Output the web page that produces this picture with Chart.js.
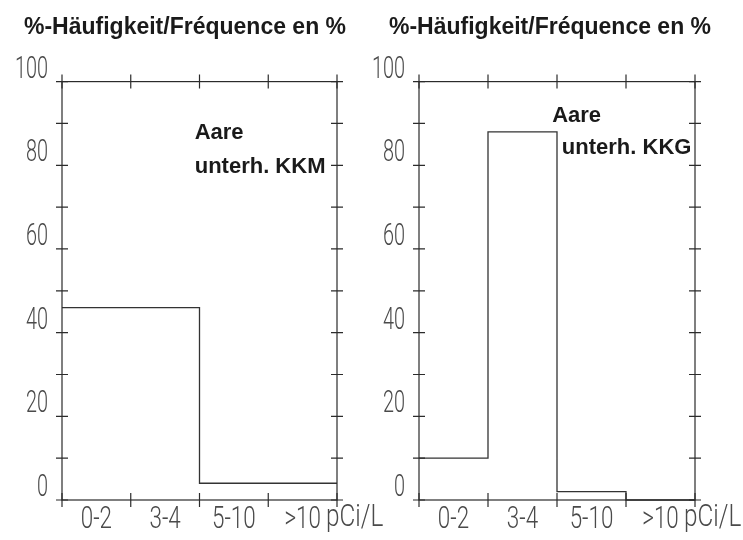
<!DOCTYPE html>
<html>
<head>
<meta charset="utf-8">
<script src="https://cdn.jsdelivr.net/npm/chart.js@4/dist/chart.umd.min.js"></script>
<style>
  html, body { margin: 0; padding: 0; background: #fff; }
  #wrap { position: relative; width: 743px; height: 540px; overflow: hidden; }
  .box { position: absolute; top: 0; height: 540px; }
  #boxLeft { left: 0; width: 400px; }
  #boxRight { left: 357px; width: 386px; }
</style>
</head>
<body>
<div id="wrap">
  <div class="box" id="boxLeft"><canvas id="chartLeft"></canvas></div>
  <div class="box" id="boxRight"><canvas id="chartRight"></canvas></div>
</div>
<script>
// categories (pCi/L classes) and share of samples in %
const categories = ['0-2', '3-4', '5-10', '>10'];
const kkmValues = [46, 46, 4, 4];
const kkgValues = [10, 88, 2, 0];
const titleText = '%-Häufigkeit/Fréquence en %';
const unitText = 'pCi/L';
const kkmNote = ['Aare', 'unterh. KKM'];
const kkgNote = ['Aare', 'unterh. KKG'];

const plotFont = { family: 'Roboto', size: 32, weight: 300 };
const boldFont = "'Liberation Sans', Arial, sans-serif";
const ink = '#2b2b2b';
const labelInk = '#4a4a4a';

// tick labels squeezed sideways through fillText's maxWidth (plotter lettering is tall and narrow)
const squeezeItems = (scale, items, factor) => {
    const ctx = scale.ctx;
    items.forEach(item => {
        if (item.options.maxWidth === undefined) {
            ctx.save();
            if (item.font) ctx.font = item.font.string;
            item.options.maxWidth = Math.max(1, ctx.measureText(String(item.label)).width * factor);
            ctx.restore();
        }
    });
    return items;
};

class NarrowLinearScale extends Chart.LinearScale {
    getLabelItems(chartArea) { return squeezeItems(this, super.getLabelItems(chartArea), 0.62); }
}
NarrowLinearScale.id = 'narrowLinear';
NarrowLinearScale.defaults = Chart.LinearScale.defaults;

class NarrowCategoryScale extends Chart.CategoryScale {
    getLabelItems(chartArea) { return squeezeItems(this, super.getLabelItems(chartArea), 0.7); }
}
NarrowCategoryScale.id = 'narrowCategory';
NarrowCategoryScale.defaults = Chart.CategoryScale.defaults;

Chart.register(NarrowLinearScale, NarrowCategoryScale);

// frame, crossing tick marks, unit and annotation text
const framePlugin = {
    id: 'frame',
    afterDatasetsDraw(chart, args, opts) {
        const { ctx, chartArea: a, scales } = chart;
        ctx.save();
        ctx.strokeStyle = ink;
        ctx.lineWidth = 1.2;
        ctx.strokeRect(a.left, a.top, a.right - a.left, a.bottom - a.top);
        ctx.beginPath();
        scales.x.ticks.forEach(t => {
            const px = scales.x.getPixelForValue(t.value);
            ctx.moveTo(px, a.top - 7); ctx.lineTo(px, a.top + 7);
            ctx.moveTo(px, a.bottom - 7); ctx.lineTo(px, a.bottom + 7);
        });
        scales.y.ticks.forEach(t => {
            const py = scales.y.getPixelForValue(t.value);
            ctx.moveTo(a.left - 6, py); ctx.lineTo(a.left + 6, py);
            ctx.moveTo(a.right - 6, py); ctx.lineTo(a.right + 6, py);
        });
        ctx.stroke();

        ctx.fillStyle = labelInk;
        ctx.font = `${plotFont.weight} ${plotFont.size}px ${plotFont.family}`;
        ctx.textAlign = 'left';
        ctx.textBaseline = 'top';
        const unitW = ctx.measureText(unitText).width * 0.76;
        ctx.fillText(unitText, a.right - 11, scales.cat.top + 2, unitW);

        ctx.fillStyle = '#1a1a1a';
        ctx.font = 'bold 22px ' + boldFont;
        ctx.textBaseline = 'alphabetic';
        opts.notes.forEach(n => {
            ctx.fillText(n.text, scales.x.getPixelForValue(n.x), scales.y.getPixelForValue(n.y));
        });
        ctx.restore();
    }
};

const makeChart = (canvasId, values, notes, padRight, rightWidth) => {
    // step outline: each class value runs from its lower to its upper bound
    const points = values.map((v, i) => ({ x: i, y: v }));
    points.push({ x: values.length, y: values[values.length - 1] });

    const ctx = document.getElementById(canvasId).getContext('2d');
    return new Chart(ctx, {
        type: 'line',
        data: {
            datasets: [{
                data: points,
                stepped: true,
                borderColor: '#333',
                borderWidth: 1.3,
                pointRadius: 0,
                fill: false,
                clip: false
            }]
        },
        options: {
            responsive: true,
            maintainAspectRatio: false,
            animation: false,
            layout: { padding: { left: 0, right: padRight, top: 0, bottom: 0 } },
            plugins: {
                legend: { display: false },
                tooltip: { enabled: false },
                title: {
                    display: true,
                    text: titleText,
                    color: '#1a1a1a',
                    font: { family: boldFont, size: 23, weight: 'bold' },
                    padding: { top: 14, bottom: 40 }
                },
                frame: { notes: notes }
            },
            scales: {
                x: {
                    type: 'linear',
                    display: false,
                    min: 0,
                    max: categories.length,
                    ticks: { stepSize: 1 }
                },
                cat: {
                    type: 'narrowCategory',
                    position: 'bottom',
                    labels: categories,
                    offset: true,
                    weight: 1,
                    grid: { display: false, drawTicks: false },
                    border: { display: false },
                    ticks: { color: labelInk, padding: 1, font: plotFont },
                    afterFit: s => { s.height = 40; }
                },
                y: {
                    type: 'narrowLinear',
                    min: 0,
                    max: 100,
                    grid: { display: false, drawTicks: false },
                    border: { display: false },
                    ticks: {
                        stepSize: 10,
                        padding: 14,
                        labelOffset: -12,
                        color: labelInk,
                        font: plotFont,
                        callback: v => (v % 20 === 0 ? v : '')
                    },
                    afterFit: s => { s.width = 62; }
                },
                y2: {
                    position: 'right',
                    grid: { display: false, drawTicks: false },
                    border: { display: false },
                    ticks: { display: false },
                    afterFit: s => { s.width = rightWidth; }
                }
            }
        },
        plugins: [framePlugin]
    });
};

makeChart('chartLeft', kkmValues, [
    { text: kkmNote[0], x: 1.93, y: 86.4 },
    { text: kkmNote[1], x: 1.93, y: 78.2 }
], 30, 33);

makeChart('chartRight', kkgValues, [
    { text: kkgNote[0], x: 1.93, y: 90.4 },
    { text: kkgNote[1], x: 2.07, y: 82.8 }
], 0, 48);
</script>
</body>
</html>
